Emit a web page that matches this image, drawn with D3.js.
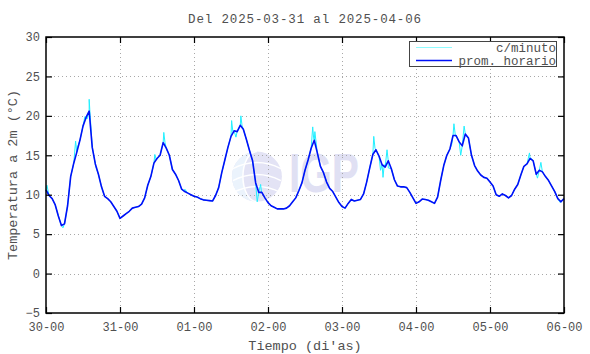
<!DOCTYPE html>
<html>
<head>
<meta charset="utf-8">
<script src="https://cdn.jsdelivr.net/npm/d3@7"></script>
<style>
  body { margin: 0; background: #fff; }
  svg { display: block; }
  text { font-family: "Liberation Mono", "DejaVu Sans Mono", monospace; fill: #505050; }
</style>
</head>
<body>
<svg id="chart" width="590" height="354"></svg>
<script>
// hourly average temperature (°C), one array per day, starting 2025-03-30 00h
const start = Date.UTC(2025, 2, 30, 0);
const day30 = [10.6, 9.9, 9.5, 8.7, 7.3, 6.1, 6.3, 8.6, 12.3, 14.0, 15.4, 16.9, 18.7, 19.8, 20.6, 16.0, 13.9, 12.6, 11.0, 9.8, 9.5, 9.1, 8.5, 7.9];
const day31 = [7.0, 7.3, 7.6, 7.9, 8.3, 8.4, 8.5, 8.8, 9.6, 11.2, 12.3, 14.0, 14.6, 15.0, 16.6, 15.9, 15.0, 13.2, 12.6, 11.8, 10.7, 10.4, 10.2, 10.0];
const day01 = [9.8, 9.7, 9.5, 9.35, 9.3, 9.25, 9.2, 9.9, 10.9, 12.8, 14.4, 16.0, 17.4, 18.1, 18.0, 18.8, 18.3, 17.0, 15.6, 14.3, 11.5, 10.3, 10.3, 9.6];
const day02 = [9.0, 8.6, 8.4, 8.2, 8.2, 8.2, 8.3, 8.6, 9.1, 9.6, 10.5, 11.5, 13.1, 14.4, 15.9, 16.9, 15.3, 13.6, 12.8, 11.6, 10.8, 10.4, 9.7, 9.0];
const day03 = [8.5, 8.3, 8.9, 9.4, 9.2, 9.3, 9.4, 10.1, 11.6, 13.4, 15.1, 15.7, 14.9, 13.8, 13.5, 14.3, 13.3, 11.9, 11.1, 11.0, 11.0, 10.9, 10.3, 9.6];
const day04 = [8.9, 9.1, 9.45, 9.4, 9.3, 9.1, 8.9, 9.7, 11.8, 13.7, 15.0, 15.8, 17.5, 17.5, 16.7, 16.2, 17.7, 17.2, 15.0, 13.7, 13.0, 12.5, 12.2, 12.1];
const day05 = [11.6, 11.1, 10.0, 9.8, 10.1, 9.9, 9.6, 9.9, 10.7, 11.3, 12.5, 13.6, 13.9, 14.6, 14.3, 12.6, 13.1, 12.9, 12.3, 11.8, 11.1, 10.4, 9.5, 9.1, 9.5];

// per-minute excursions visible around the hourly line: [hours since start, °C]
const minuteSpikes = [
  [0.3, 11.2], [5.5, 5.8], [9.6, 16.8], [10.1, 15.9], [12.6, 19.9], [13.3, 19.6], [14.0, 22.1], [14.2, 20.8], [16.1, 13.6],
  [35.3, 15.1], [35.8, 14.4], [38.2, 17.9], [38.6, 16.6], [45.0, 10.7],
  [60.2, 19.4], [60.6, 18.0], [61.6, 17.3], [63.2, 20.0], [63.6, 18.7], [68.5, 9.1], [69.6, 11.3], [69.9, 10.3],
  [86.5, 18.6], [86.8, 17.2], [87.2, 18.0],
  [106.3, 17.4], [106.7, 15.9], [108.5, 13.1], [109.3, 12.2], [109.7, 13.8], [110.6, 15.7], [111.0, 13.4],
  [131.6, 16.4], [132.3, 19.0], [132.8, 17.4], [134.5, 15.0], [135.6, 18.7], [136.0, 17.5],
  [156.8, 15.3], [157.4, 14.6], [159.4, 12.1], [160.5, 14.1], [166.8, 9.0]
];

const yTicks = [-5, 0, 5, 10, 15, 20, 25, 30];
const title = "Del 2025-03-31 al 2025-04-06";
const legendLabels = ["c/minuto", "prom. horario"];

const hourMs = 3600 * 1000;
const hourly = [].concat(day30, day31, day01, day02, day03, day04, day05)
  .map((v, i) => ({ t: new Date(start + i * hourMs), v }));
const minute = hourly
  .map((d, i) => ({ h: i, v: d.v }))
  .concat(minuteSpikes.map(([h, v]) => ({ h, v })))
  .sort((a, b) => a.h - b.h)
  .map((d) => ({ t: new Date(start + d.h * hourMs), v: d.v }));

const width = 590, height = 354;
const margin = { top: 37, right: 26, bottom: 41, left: 46 };
const svg = d3.select("#chart");

const x = d3.scaleUtc()
  .domain([new Date(start), new Date(start + 7 * 24 * hourMs)])
  .range([margin.left, width - margin.right]);
const y = d3.scaleLinear()
  .domain([-5, 30])
  .range([height - margin.bottom, margin.top]);

const dayTicks = x.ticks(d3.utcDay.every(1));

// watermark logo
const cx = x(new Date(start + 2.85 * 24 * hourMs)), cy = y(12.3);
const logo = svg.append("g");
logo.append("circle").attr("cx", cx).attr("cy", cy).attr("r", 25).attr("fill", "#e3e3f5");
logo.append("path")
  .attr("d", `M${cx},${cy - 25} A25,25 0 0,0 ${cx},${cy + 25} A14,25 0 0,1 ${cx},${cy - 25}Z`)
  .attr("fill", "#ebf3fc");
[-12, 0, 12].forEach((dy) => {
  logo.append("path")
    .attr("d", `M${cx - 24},${cy + dy + 4} Q${cx},${cy + dy - 8} ${cx + 24},${cy + dy + 4}`)
    .attr("fill", "none").attr("stroke", "#fff").attr("stroke-width", 1.5);
});
logo.append("path")
  .attr("d", `M${cx},${cy - 25} A14,25 0 0,0 ${cx},${cy + 25}`)
  .attr("fill", "none").attr("stroke", "#fff").attr("stroke-width", 1.5);
logo.append("text")
  .attr("x", cx + 32).attr("y", cy + 15)
  .attr("textLength", 70).attr("lengthAdjust", "spacingAndGlyphs")
  .style("font-family", "'Liberation Sans', Arial, sans-serif")
  .style("font-weight", "bold").style("font-size", "55px").style("fill", "#e0e0f3")
  .text("IGP");

// grid
const grid = svg.append("g")
  .attr("stroke", "#a8a8a8").attr("stroke-width", 1).attr("stroke-dasharray", "1,3");
grid.selectAll("line.gx")
  .data(dayTicks.slice(1, -1))
  .join("line")
  .attr("x1", (d) => Math.round(x(d)) + 0.5).attr("x2", (d) => Math.round(x(d)) + 0.5)
  .attr("y1", margin.top).attr("y2", height - margin.bottom);
grid.selectAll("line.gy")
  .data(yTicks.slice(1, -1))
  .join("line")
  .attr("y1", (d) => Math.round(y(d)) + 0.5).attr("y2", (d) => Math.round(y(d)) + 0.5)
  .attr("x1", margin.left).attr("x2", width - margin.right);

// series
const line = d3.line().x((d) => x(d.t)).y((d) => y(d.v));
svg.append("path").datum(minute)
  .attr("fill", "none").attr("stroke", "#22f0ff").attr("stroke-width", 1)
  .attr("d", line);
svg.append("path").datum(hourly)
  .attr("fill", "none").attr("stroke", "#0010f8").attr("stroke-width", 1.6)
  .attr("stroke-linejoin", "round")
  .attr("d", line);

// axes (inward ticks on all sides)
const fmt = d3.utcFormat("%d-%H");
function styleAxis(g) {
  g.select(".domain").remove();
  g.selectAll(".tick line").attr("stroke", "#000").attr("stroke-width", 1.2);
  g.selectAll(".tick text")
    .style("font-family", "'Liberation Mono', 'DejaVu Sans Mono', monospace")
    .style("font-size", "12px").attr("fill", "#505050");
}
svg.append("g")
  .attr("transform", `translate(0,${height - margin.bottom})`)
  .call(d3.axisBottom(x).tickValues(dayTicks).tickFormat(fmt).tickSize(-6).tickPadding(9))
  .call(styleAxis);
svg.append("g")
  .attr("transform", `translate(0,${margin.top})`)
  .call(d3.axisTop(x).tickValues(dayTicks).tickFormat("").tickSize(-6))
  .call(styleAxis);
svg.append("g")
  .attr("transform", `translate(${margin.left},0)`)
  .call(d3.axisLeft(y).tickValues(yTicks).tickSize(-6).tickPadding(6))
  .call(styleAxis);
svg.append("g")
  .attr("transform", `translate(${width - margin.right},0)`)
  .call(d3.axisRight(y).tickValues(yTicks).tickFormat("").tickSize(-6))
  .call(styleAxis);

svg.append("rect")
  .attr("x", margin.left).attr("y", margin.top)
  .attr("width", width - margin.left - margin.right)
  .attr("height", height - margin.top - margin.bottom)
  .attr("fill", "none").attr("stroke", "#000").attr("stroke-width", 1.5);

// legend
const lx = width - margin.right - 155, ly = margin.top + 4;
const legend = svg.append("g");
legend.append("rect")
  .attr("x", lx + 0.5).attr("y", ly + 0.5).attr("width", 147).attr("height", 25)
  .attr("fill", "#fff").attr("stroke", "#444").attr("stroke-width", 1);
[["#8ffcff", 1], ["#0010f8", 1.6]].forEach(([c, w], i) => {
  const yy = ly + 6.5 + i * 13;
  legend.append("line")
    .attr("x1", lx + 7).attr("x2", lx + 43).attr("y1", yy).attr("y2", yy)
    .attr("stroke", c).attr("stroke-width", w);
  legend.append("text")
    .attr("x", lx + 147).attr("y", yy + 4)
    .attr("text-anchor", "end")
    .style("font-size", "12.5px")
    .text(legendLabels[i]);
});

// titles
const midX = (margin.left + width - margin.right) / 2;
svg.append("text")
  .attr("x", midX).attr("y", 22.5).attr("text-anchor", "middle")
  .style("font-size", "12.5px").style("letter-spacing", "0.85px")
  .text(title);
svg.append("text")
  .attr("x", midX).attr("y", 350).attr("text-anchor", "middle")
  .style("font-size", "13.5px")
  .text("Tiempo (di'as)");
svg.append("text")
  .attr("transform", `translate(17,${(margin.top + height - margin.bottom) / 2}) rotate(-90)`)
  .attr("text-anchor", "middle")
  .style("font-size", "13.5px")
  .text("Temperatura a 2m (°C)");
</script>
</body>
</html>
